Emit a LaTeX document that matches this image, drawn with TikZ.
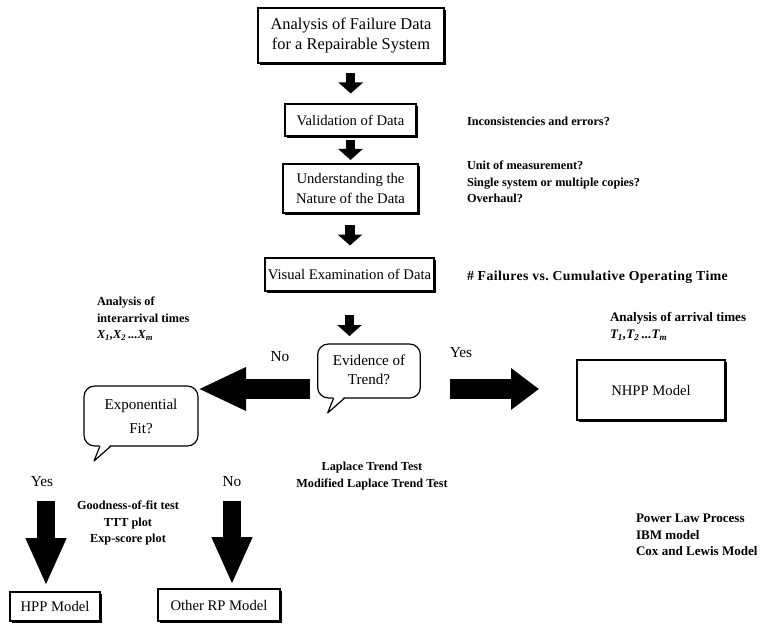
\documentclass[tikz,border=0pt]{standalone}
\usepackage{fontspec}
\setmainfont{Liberation Serif}
\usetikzlibrary{calc,arrows.meta,shadows}

% speech-bubble tail hanging from the lower left of a rounded node
\newcommand\calloutTail[1]{%
  \fill[white] ($(#1.south west)+(16,-1.8)$) -- ($(#1.south west)+(10,15)$)
      -- ($(#1.south west)+(27,-1.8)$) -- cycle;
  \draw[tailline] ($(#1.south west)+(16,0)$) -- ($(#1.south west)+(10,15)$)
      -- ($(#1.south west)+(27,0)$);}

\begin{document}
\begin{tikzpicture}[x=0.75pt, y=-0.75pt,
  every node/.style={inner sep=0pt, outer sep=0pt},
  stepbox/.style={draw, line width=0.8pt, fill=white, align=center,
    font=\fontsize{11}{15}\selectfont,
    drop shadow={shadow xshift=1.4pt, shadow yshift=-1.4pt, fill=black, opacity=1}},
  bubble/.style={draw, line width=0.9pt, rounded corners=8pt, fill=white,
    align=center, font=\fontsize{11.3}{15}\selectfont},
  tailline/.style={line width=0.9pt, line join=round},
  note/.style={font=\bfseries\fontsize{9.2}{12.4}\selectfont, align=left},
  centred/.style={font=\bfseries\fontsize{9.2}{12.4}\selectfont, align=center},
  answer/.style={font=\fontsize{11.5}{13}\selectfont},
  tinyarrow/.style={line width=7pt, -{Triangle[width=18pt,length=8.25pt]}},
  sidearrow/.style={line width=15pt, -{Triangle[width=30pt,length=#1]}},
  downarrow/.style={line width=13pt, -{Triangle[width=28pt,length=36pt]}}
]
\useasboundingbox (0,0) rectangle (764,624);

% main column of steps
\node[stepbox, minimum width=139.5pt, minimum height=41.25pt,
  font=\fontsize{12.3}{15.5}\selectfont] (top) at (351,35.5)
  {Analysis of Failure Data\\for a Repairable System};
\node[stepbox, minimum width=98.25pt, minimum height=24pt] (val) at (350.5,120)
  {Validation of Data};
\node[stepbox, minimum width=101.25pt, minimum height=36.75pt] (und) at (350.5,188.5)
  {Understanding the\\Nature of the Data};
\node[stepbox, minimum width=126.75pt, minimum height=24.75pt] (vis) at (349.5,274.5)
  {Visual Examination of Data};

% decision bubbles
\node[bubble, minimum width=77pt, minimum height=40.5pt] (evid) at (369,371)
  {\raisebox{-2pt}{\begin{tabular}{@{}c@{}}Evidence of\\[-1pt]Trend?\end{tabular}}};
\node[bubble, minimum width=85.5pt, minimum height=45pt,
  font=\fontsize{11.3}{18}\selectfont] (expo) at (141,416) {Exponential\\Fit?};
\calloutTail{evid}
\calloutTail{expo}

% resulting models
\node[stepbox, minimum width=111pt, minimum height=45pt] (nhpp) at (651,390)
  {NHPP Model};
\node[stepbox, minimum width=67.5pt, minimum height=21.75pt] (hpp) at (55,606.5)
  {HPP Model};
\node[stepbox, minimum width=91.5pt, minimum height=24pt] (orp) at (219,605)
  {Other RP Model};

% branch answers
\node[answer] (no1) at (280,357) {No};
\node[answer] (yes1) at (461,353) {Yes};
\node[answer] (yes2) at (42,482) {Yes};
\node[answer] (no2) at (232,482) {No};

% side notes
\node[note, anchor=west] (n1) at (467,121) {Inconsistencies and errors?};
\node[note, anchor=north west] (n2) at (467,161)
  {Unit of measurement?\\Single system or multiple copies?\\Overhaul?};
\node[note, anchor=west, font=\bfseries\fontsize{10.3}{12}\selectfont\addfontfeature{LetterSpace=3}]
  (n3) at (467,277) {\# Failures vs.\ Cumulative Operating Time};
\node[note, anchor=north west] (n4) at (97,297)
  {Analysis of\\interarrival times\\{\itshape X\textsubscript{1},X\textsubscript{2}\,...X\textsubscript{m}}};
\node[note, anchor=north west, font=\bfseries\fontsize{9.8}{12.8}\selectfont] (n5) at (610,312)
  {Analysis of arrival times\\{\itshape T\textsubscript{1},T\textsubscript{2}\,...T\textsubscript{m}}};
\node[centred, anchor=north] (n6) at (372,462)
  {Laplace Trend Test\\Modified Laplace Trend Test};
\node[centred, anchor=north] (n7) at (128,501)
  {Goodness-of-fit test\\TTT plot\\Exp-score plot};
\node[note, anchor=north west, font=\bfseries\fontsize{9.8}{12.4}\selectfont] (n8) at (636,514)
  {Power Law Process\\IBM model\\Cox and Lewis Model};

% block arrows
\draw[tinyarrow] ($(top.south)!.5!(val.north)+(0,-10)$) -- ($(top.south)!.5!(val.north)+(0,10)$);
\draw[tinyarrow] ($(val.south)!.5!(und.north)+(0,-10)$) -- ($(val.south)!.5!(und.north)+(0,10)$);
\draw[tinyarrow] ($(und.south)!.5!(vis.north)+(0,-10)$) -- ($(und.south)!.5!(vis.north)+(0,10)$);
\draw[tinyarrow] ($(vis.south)+(0,24)$) -- ($(vis.south |- evid.north)+(0,-8)$);

\draw[sidearrow=36pt] ($(evid.west)+(-8,18)$) -- ($(expo.east)+(0,-27)$);
\draw[sidearrow=21pt] ($(evid.east)+(30,18)$) -- ($(nhpp.west)+(-38,-1)$);

\draw[downarrow] ($(yes2.south)+(4,14)$) -- ($(hpp.north)+(-9,-6)$);
\draw[downarrow] ($(no2.south)+(0,14)$) -- ($(orp.north)+(13,-4)$);
\end{tikzpicture}
\end{document}
